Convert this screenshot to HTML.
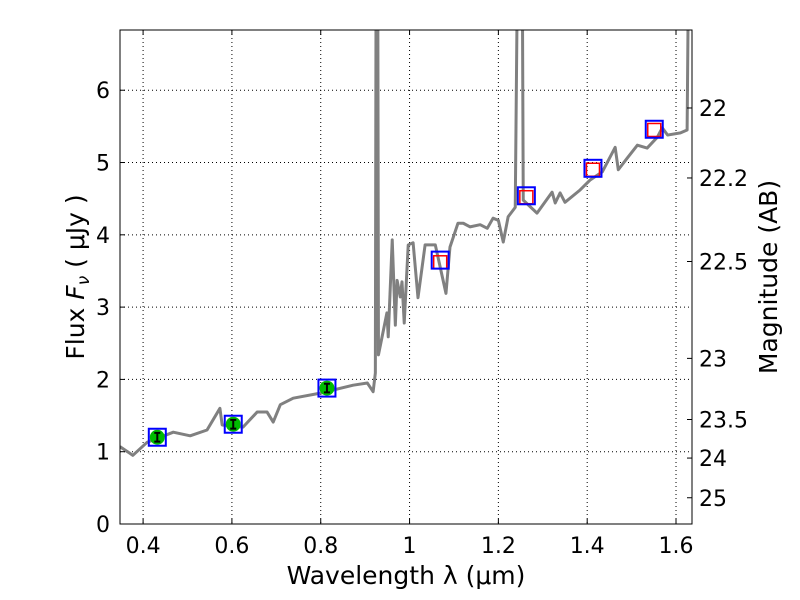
<!DOCTYPE html>
<html><head><meta charset="utf-8"><style>
body{margin:0;background:#fff}
svg{display:block;font-family:"DejaVu Sans","Liberation Sans",sans-serif}
</style></head><body>
<svg id="chart" width="800" height="600" xmlns="http://www.w3.org/2000/svg">
<rect width="800" height="600" fill="#fff"/>
<g id="grid"></g><g id="series"></g><g id="axes"></g>
</svg>
<script>
const wave=[0.348,0.377,0.409,0.468,0.506,0.544,0.573,0.578,0.625,0.657,0.679,0.693,0.709,0.738,0.799,0.873,0.905,0.918,0.923,0.925,0.928,0.930,0.949,0.952,0.961,0.968,0.972,0.979,0.983,0.988,0.997,1.008,1.019,1.035,1.058,1.082,1.091,1.109,1.121,1.136,1.159,1.175,1.188,1.200,1.211,1.222,1.238,1.245,1.247,1.251,1.253,1.256,1.287,1.321,1.328,1.339,1.350,1.384,1.407,1.434,1.463,1.470,1.490,1.513,1.535,1.558,1.569,1.581,1.610,1.625,1.630];
const flux=[1.07,0.95,1.13,1.27,1.22,1.30,1.60,1.37,1.34,1.55,1.55,1.41,1.65,1.74,1.81,1.92,1.95,1.83,2.09,9,9,2.34,2.92,2.59,3.93,2.75,3.37,3.14,3.35,2.78,3.86,3.89,3.13,3.86,3.86,3.19,3.83,4.16,4.16,4.11,4.14,4.09,4.23,4.20,3.90,4.25,4.38,9,9,9,9,4.48,4.30,4.59,4.44,4.58,4.45,4.62,4.76,4.87,5.21,4.90,5.06,5.24,5.20,5.35,5.48,5.38,5.41,5.45,9];
const photWave=[0.432,0.603,0.814];
const photFlux=[1.20,1.38,1.88];
const photErr=[0.06,0.06,0.06];
const obsWave=[0.432,0.603,0.814,1.069,1.263,1.413,1.551];
const obsFlux=[1.20,1.38,1.88,3.65,4.54,4.92,5.46];
const modelWave=[1.069,1.263,1.413,1.551];
const modelFlux=[3.62,4.52,4.90,5.45];
const xTicks=[0.4,0.6,0.8,1,1.2,1.4,1.6];
const xTickLabels=["0.4","0.6","0.8","1","1.2","1.4","1.6"];
const yTicks=[0,1,2,3,4,5,6];
const magTicks=[22,22.2,22.5,23,23.5,24,25];
const magLabels=["22","22.2","22.5","23","23.5","24","25"];

const L=120,R=692,T=30,B=524,xmin=0.348,xmax=1.636,ymin=0,ymax=6.833;
const X=v=>L+(v-xmin)/(xmax-xmin)*(R-L);
const Y=v=>B-(v-ymin)/(ymax-ymin)*(B-T);
const NS="http://www.w3.org/2000/svg";
function mk(tag,attrs,parent){const e=document.createElementNS(NS,tag);for(const k in attrs)e.setAttribute(k,attrs[k]);parent.appendChild(e);return e;}
const grid=document.getElementById('grid'),ser=document.getElementById('series'),ax=document.getElementById('axes');
mk('clipPath',{id:'clip'},ser).appendChild(document.createElementNS(NS,'rect'));
const cr=ser.querySelector('#clip rect');cr.setAttribute('x',L);cr.setAttribute('y',T);cr.setAttribute('width',R-L);cr.setAttribute('height',B-T);

xTicks.forEach((t,i)=>{
  const g=mk('line',{x1:X(t),x2:X(t),y1:T,y2:B,stroke:'#000','stroke-dasharray':'1,3','stroke-width':1},grid);
  
  
  const tk=mk('line',{x1:X(t),x2:X(t),y1:B,y2:B-5,stroke:'#000'},ax);
  
  
  const tk2=mk('line',{x1:X(t),x2:X(t),y1:T,y2:T+5,stroke:'#000'},ax);
  
  
  const tx=mk('text',{x:X(t),y:B+29,'text-anchor':'middle','font-size':22},ax);
  tx.textContent=xTickLabels[i];
  
  
});
yTicks.forEach(t=>{
  const g=mk('line',{x1:L,x2:R,y1:Y(t),y2:Y(t),stroke:'#000','stroke-dasharray':'1,3','stroke-width':1},grid);
  
  
  const tk=mk('line',{x1:L,x2:L+5,y1:Y(t),y2:Y(t),stroke:'#000'},ax);
  
  
  const tx=mk('text',{x:L-10,y:Y(t)+8,'text-anchor':'end','font-size':22},ax);
  tx.textContent=String(t);
  
  
});
magTicks.forEach((m,i)=>{
  const f=Math.pow(10,(23.9-m)/2.5);
  const tk=mk('line',{x1:R,x2:R-5,y1:Y(f),y2:Y(f),stroke:'#000'},ax);
  
  
  const tx=mk('text',{x:R+7,y:Y(f)+8,'font-size':22},ax);
  tx.textContent=magLabels[i];
  
  
});

const sp=mk('polyline',{points:wave.map((w,i)=>X(w)+','+Y(flux[i])).join(' '),fill:'none',stroke:'#808080','stroke-width':3,'clip-path':'url(#clip)','stroke-linejoin':'round'},ser);



photWave.forEach((w,i)=>{
  const c=mk('circle',{cx:X(w),cy:Y(photFlux[i]),r:7.5,fill:'#00bb00'},ser);
  
  
  const y1=Y(photFlux[i]+photErr[i]),y2=Y(photFlux[i]-photErr[i]),x=X(w);
  const e=mk('path',{d:`M${x},${y1}V${y2}M${x-3},${y1}H${x+3}M${x-3},${y2}H${x+3}`,stroke:'#000','stroke-width':2,fill:'none'},ser);
  
  
});
modelWave.forEach((w,i)=>{
  const r=mk('rect',{x:X(w)-6.5,y:Y(modelFlux[i])-6.5,width:13,height:13,fill:'none',stroke:'#ff0000','stroke-width':1.5},ser);
  
  
});
obsWave.forEach((w,i)=>{
  const r=mk('rect',{x:X(w)-8.5,y:Y(obsFlux[i])-8.5,width:17,height:17,fill:'none',stroke:'#0000ff','stroke-width':2},ser);
  
  
});

const fr=mk('rect',{x:L,y:T,width:R-L,height:B-T,fill:'none',stroke:'#000','stroke-width':1},ax);


const xl=mk('text',{x:406,y:584,'text-anchor':'middle','font-size':25},ax);
xl.textContent='Wavelength  λ (μm)';


const yl=mk('text',{transform:'translate(84,277) rotate(-90)','text-anchor':'middle','font-size':25},ax);
yl.innerHTML='Flux  <tspan font-style="italic">F</tspan><tspan font-size="17" dy="5" font-style="italic">ν</tspan><tspan dy="-5">  ( μJy )</tspan>';


const ml=mk('text',{transform:'translate(777,277) rotate(-90)','text-anchor':'middle','font-size':25},ax);
ml.textContent='Magnitude (AB)';


</script>
</body></html>
